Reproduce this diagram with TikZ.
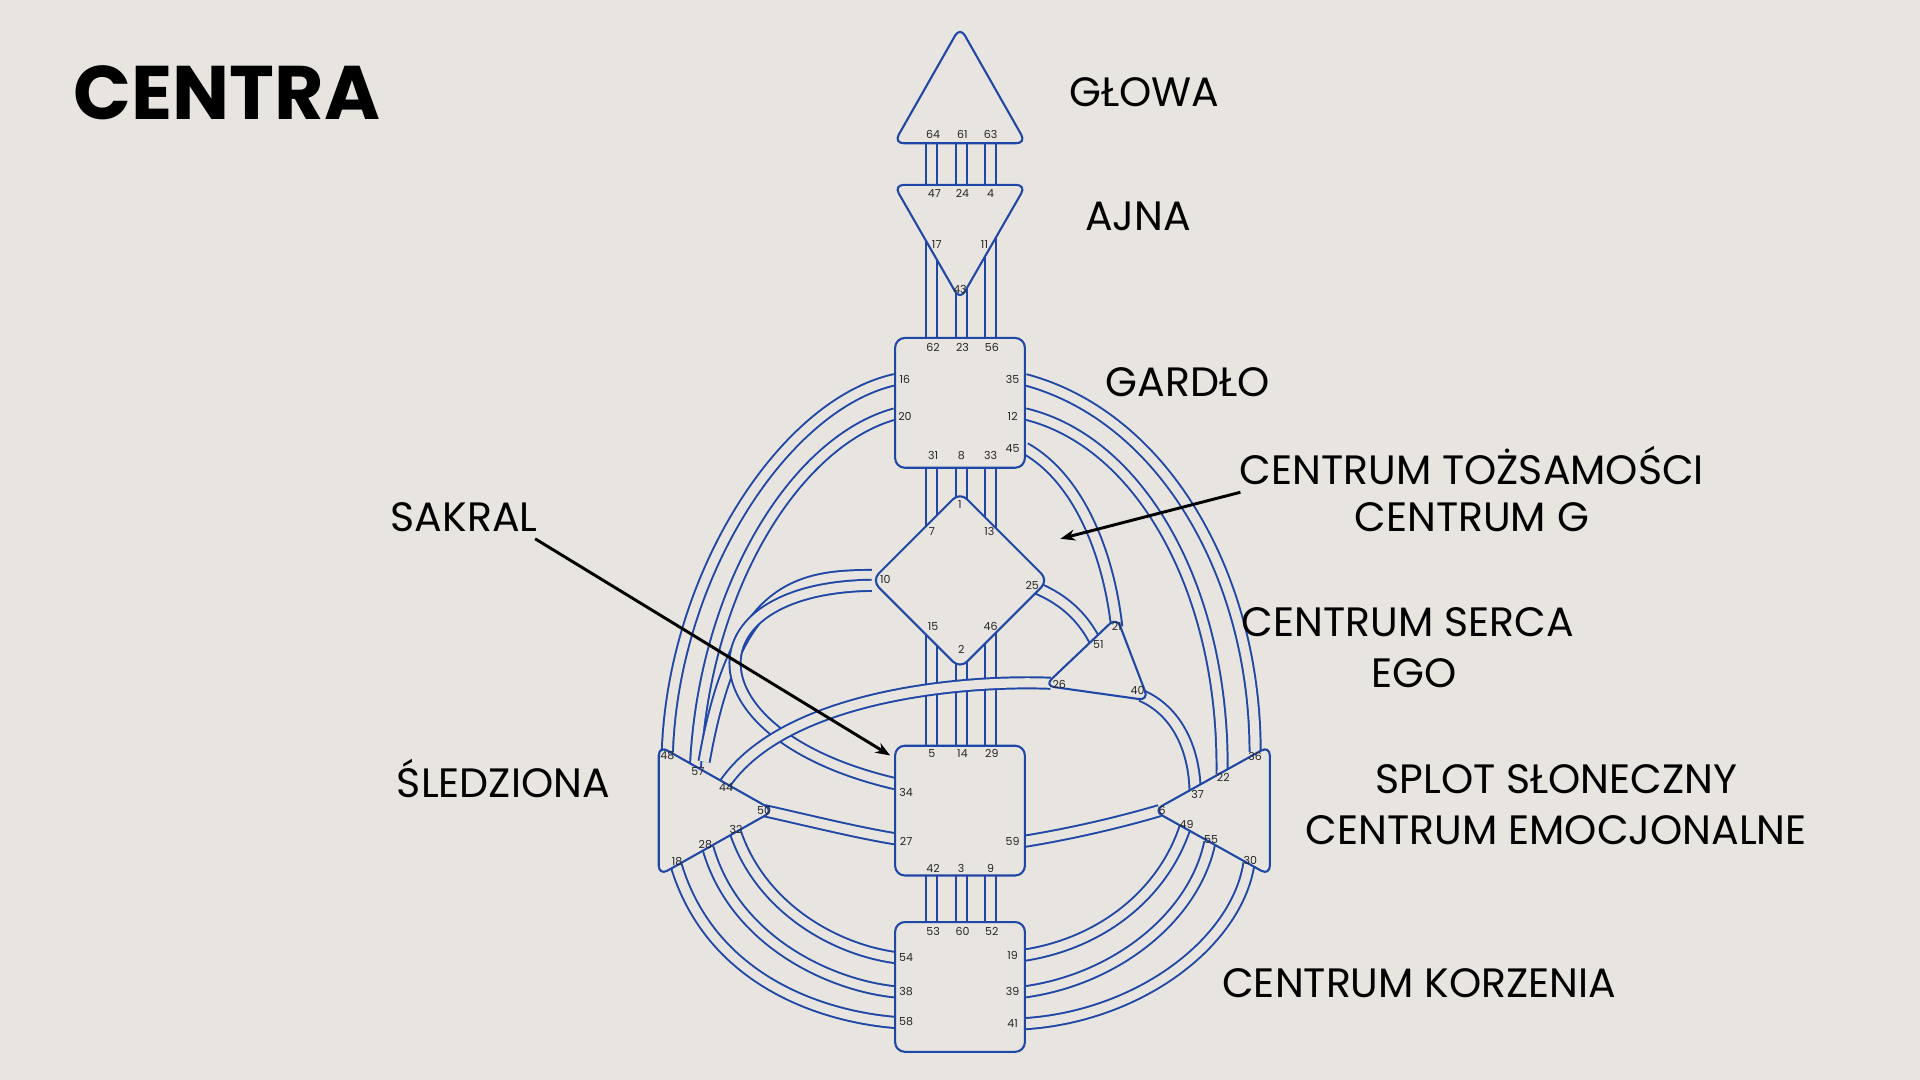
\documentclass[tikz,border=0pt]{standalone}
\usepackage{fontspec}
\setmainfont{Poppins}
\usetikzlibrary{arrows.meta}
\definecolor{bg}{HTML}{E8E4DF}
\definecolor{hd}{HTML}{1F47A6}
\begin{document}
\begin{tikzpicture}[x=1pt,y=-1pt,
  band/.style={draw=hd,line width=1.6pt,double=bg,double distance=7.5pt},
  ctr/.style={draw=hd,line width=1.7pt,fill=bg,rounded corners=8pt},
  num/.style={font=\fontsize{9}{9}\selectfont,text=black!85,inner sep=0pt},
  lab/.style={font=\fontsize{33.5}{33.5}\selectfont,text=black,inner sep=0pt},
  arr/.style={-{Stealth[length=12pt,width=9pt]},line width=2.4pt,black}]
\fill[bg] (0,0) rectangle (1568,882);
\useasboundingbox (0,0) rectangle (1568,882);
% vertical channels
\foreach \x in {761,785,809} \draw[band] (\x,110) -- (\x,765);
% left channels
\draw[band] (731,310) .. controls (640,330) and (550,470) .. (545,614);
\draw[band] (731,338) .. controls (650,360) and (575,480) .. (568,626);
\draw[band] (712,470) .. controls (650,470) and (600,480) .. (575,622);
\draw[band] (712,478) .. controls (560,480) and (560,600) .. (731,640);
\draw[band] (592,640) .. controls (640,570) and (780,555) .. (858,558);
\draw[band] (624,662) .. controls (660,670) and (700,680) .. (731,685);
\draw[band] (600,678) .. controls (620,740) and (680,775) .. (731,782);
\draw[band] (578,692) .. controls (600,770) and (680,805) .. (731,810);
\draw[band] (552,706) .. controls (580,800) and (670,830) .. (731,835);
% right channels
\draw[band] (837,310) .. controls (950,340) and (1025,470) .. (1025,614);
\draw[band] (837,338) .. controls (930,360) and (1000,480) .. (998,632);
\draw[band] (837,366) .. controls (880,390) and (905,450) .. (912,512);
\draw[band] (846,480) .. controls (870,490) and (885,505) .. (895,525);
\draw[band] (932,568) .. controls (960,580) and (975,610) .. (976,645);
\draw[band] (837,687) .. controls (880,680) and (920,670) .. (947,662);
\draw[band] (837,780) .. controls (900,770) and (950,730) .. (968,675);
\draw[band] (837,810) .. controls (910,800) and (975,750) .. (988,688);
\draw[band] (837,836) .. controls (930,830) and (1010,770) .. (1020,705);
% centers
\draw[ctr] (784,22) -- (838,117) -- (730,117) -- cycle;
\draw[ctr] (730,151) -- (838,151) -- (784,245) -- cycle;
\draw[ctr] (731,276) rectangle (837,382);
\draw[ctr] (784,402) -- (856,474) -- (784,546) -- (712,474) -- cycle;
\draw[ctr] (912,504) -- (938,572) -- (853,560) -- cycle;
\draw[ctr] (731,609) rectangle (837,715);
\draw[ctr] (731,753) rectangle (837,859);
\draw[ctr] (538,609) -- (632,662) -- (538,715) -- cycle;
\draw[ctr] (1037,609) -- (1037,715) -- (942,662) -- cycle;
% numbers
\foreach \t/\x/\y in {64/762/110,61/786/110,63/809/110,
47/763/158,24/786/158,4/809/158,17/765/200,11/804/200,43/784/236,
62/762/284,23/786/284,56/810/284,16/739/310,35/827/310,20/739/340,12/827/340,45/827/366,31/762/372,8/785/372,33/809/372,
1/784/412,7/761/434,13/808/434,10/723/473,25/843/478,15/762/512,46/809/512,2/785/530,
21/912/512,51/897/526,26/865/559,40/929/564,
5/761/615,14/786/615,29/810/615,34/740/647,27/740/687,59/827/687,42/762/709,3/785/709,9/809/709,
53/762/761,60/786/761,52/810/761,54/740/782,19/827/780,38/740/810,39/827/810,58/740/834,41/827/836,
48/545/617,57/570/630,44/593/643,50/624/662,32/601/677,28/576/690,18/553/704,
36/1025/618,22/999/635,37/978/649,6/949/662,49/969/673,55/989/686,30/1021/703}
  \node[num] (n\t) at (\x,\y) {\t};
% labels
\node[font=\fontsize{62}{62}\selectfont\bfseries,anchor=west,inner sep=0pt] (title) at (60,76) {CENTRA};
\node[lab,anchor=west] (l1) at (873,75) {GŁOWA};
\node[lab,anchor=west] (l2) at (886,177) {AJNA};
\node[lab,anchor=west] (l3) at (903,312) {GARDŁO};
\node[lab] (l4) at (1202,380) {CENTRUM TOŻSAMOŚCI};
\node[lab] (l5) at (1202,422) {CENTRUM G};
\node[lab,anchor=west] (l6) at (319,422) {SAKRAL};
\node[lab,anchor=west] (l7) at (1014,508) {CENTRUM SERCA};
\node[lab] (l8) at (1155,550) {EGO};
\node[lab,anchor=west] (l9) at (324,636) {ŚLEDZIONA};
\node[lab] (l10) at (1271,636) {SPLOT SŁONECZNY};
\node[lab] (l11) at (1271,678) {CENTRUM EMOCJONALNE};
\node[lab,anchor=west] (l12) at (998,803) {CENTRUM KORZENIA};
\coordinate (a1s) at (437,440); \coordinate (a1e) at (727,617);
\coordinate (a2s) at (1013,402); \coordinate (a2e) at (866,440);
\draw[arr] (a1s) -- (a1e);
\draw[arr] (a2s) -- (a2e);
\end{tikzpicture}
\end{document}
